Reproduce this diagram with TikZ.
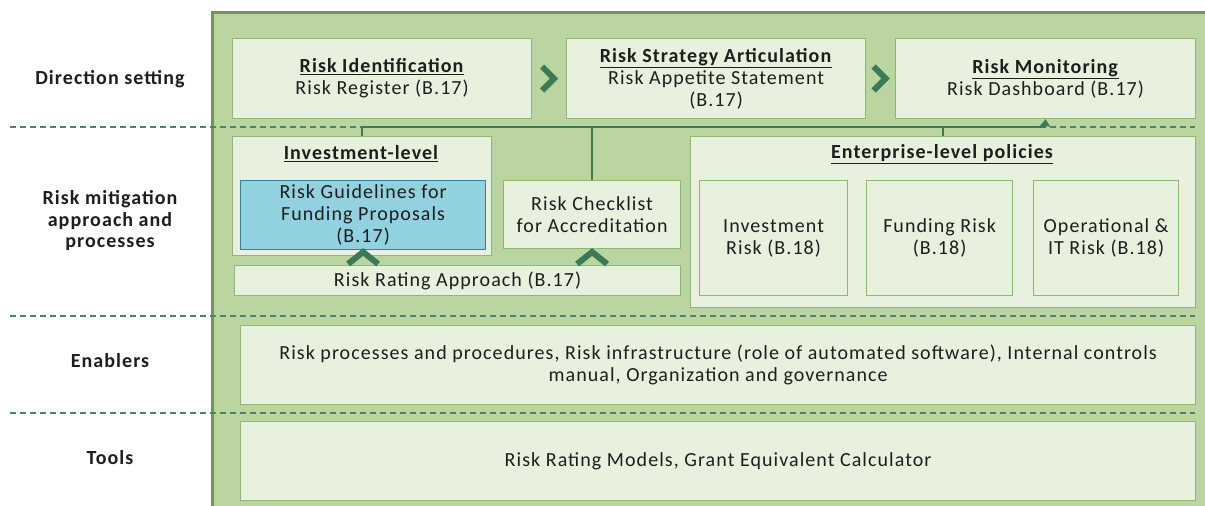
\documentclass[tikz,border=0pt]{standalone}
\usepackage{fontspec}
\setmainfont{Carlito}[LetterSpace=5.3]
\usetikzlibrary{calc,arrows.meta}
\definecolor{panel}{HTML}{BBD5A0}
\definecolor{boxfill}{HTML}{E8F0DE}
\definecolor{boxline}{HTML}{8DB874}
\definecolor{dkgreen}{HTML}{3B7A57}
\definecolor{panelline}{HTML}{6B9A55}
\definecolor{bluefill}{HTML}{92D1E0}
\definecolor{blueline}{HTML}{31849B}
\definecolor{txt}{HTML}{1E1E1E}
\definecolor{dashcol}{HTML}{4F8270}
\tikzset{
  box/.style={draw=boxline, fill=boxfill, line width=1.2pt, anchor=north west, inner sep=2pt, align=center, text=txt},
  bluebox/.style={box, draw=blueline, fill=bluefill},
  lbl/.style={font=\fontsize{20}{21.5}\selectfont\bfseries, align=center, text=txt},
  ttl/.style={font=\fontsize{20}{22}\selectfont\bfseries, text=txt},
  conn/.style={dkgreen, line width=1.5pt},
  sep/.style={dashcol, line width=1.2pt, dash pattern=on 6pt off 4pt},
  chev/.style={dkgreen, line width=6pt, line join=miter, line cap=butt},
}
\newcommand{\ul}[1]{\underline{\textbf{#1}}}
\begin{document}
\begin{tikzpicture}[x=1pt,y=-1pt, font=\fontsize{20}{22}\selectfont]
\useasboundingbox (0,0) rectangle (1205,506);
\fill[white] (0,0) rectangle (1205,506);
\fill[panel] (212,12) rectangle (1205,506);
\draw[panelline, line width=3pt] (212,506) -- (212,12) -- (1205,12);

% separators
\draw[sep] (10,127) -- (1195,127);
\draw[sep] (10,316) -- (1195,316);
\draw[sep] (10,413) -- (1195,413);

% left labels
\node[lbl] (l1) at (110,79) {Direction setting};
\node[lbl] (l2) at (110,221) {Risk mitigation\\approach and\\processes};
\node[lbl] (l3) at (110,361) {Enablers};
\node[lbl] (l4) at (110,458) {Tools};

% top row
\node[box, minimum width=299pt, minimum height=80pt] (ri) at (232,38) {\ul{Risk Identification}\\Risk Register (B.17)};
\node[box, minimum width=299pt, minimum height=80pt] (rs) at (566,38) {\ul{Risk Strategy Articulation}\\Risk Appetite Statement\\(B.17)};
\node[box, minimum width=300pt, minimum height=80pt] (rm) at (895,38) {\ul{Risk Monitoring}\\Risk Dashboard (B.17)};

% middle row
\node[box, minimum width=259pt, minimum height=119pt] (inv) at (232,136) {};
\node[ttl] (invt) at (361,154) {\underline{Investment-level}};
\node[bluebox, minimum width=245pt, minimum height=69pt] (gl) at (240,180) {Risk Guidelines for\\Funding Proposals\\(B.17)};
\node[box, minimum width=177pt, minimum height=68pt] (chk) at (503,180) {Risk Checklist\\for Accreditation};
\node[box, minimum width=446pt, minimum height=30pt] (rra) at (234,265) {Risk Rating Approach (B.17)};

\node[box, minimum width=505pt, minimum height=171pt] (ent) at (690,136) {};
\node[ttl] (entt) at (942,154) {\underline{Enterprise-level policies}};
\node[box, minimum width=148pt, minimum height=115pt] (e1) at (699,180) {Investment\\Risk (B.18)};
\node[box, minimum width=146pt, minimum height=115pt] (e2) at (866,180) {Funding Risk\\(B.18)};
\node[box, minimum width=145pt, minimum height=115pt] (e3) at (1033,180) {Operational \&\\IT Risk (B.18)};

% bottom rows
\node[box, minimum width=955pt, minimum height=79pt] (en) at (240,325) {Risk processes and procedures, Risk infrastructure (role of automated software), Internal controls\\manual, Organization and governance};
\node[box, minimum width=955pt, minimum height=79pt] (tl) at (240,421) {Risk Rating Models, Grant Equivalent Calculator};

% connectors
\coordinate (busR) at (1045,127);
\draw[conn] (inv.north) -- (inv.north |- busR) -- (busR);
\draw[conn, -{Triangle[length=7pt,width=10pt]}] (busR) -- (rm.south);
\draw[conn] (chk.north) -- (chk.north |- busR);
\draw[conn] (ent.north) -- (ent.north |- busR);

% chevrons right
\coordinate (c1) at ($(ri.east)!0.5!(rs.west)$);
\coordinate (c2) at ($(rs.east)!0.5!(rm.west)$);
\draw[chev] ($(c1)+(-7,-12)$) -- ($(c1)+(5,0)$) -- ($(c1)+(-7,12)$);
\draw[chev] ($(c2)+(-7,-12)$) -- ($(c2)+(5,0)$) -- ($(c2)+(-7,12)$);

% chevrons up
\coordinate (u1) at (gl.south |- rra.north);
\coordinate (u2) at (chk.south |- rra.north);
\draw[chev] ($(u1)+(-15,-1)$) -- ($(u1)+(0,-13)$) -- ($(u1)+(15,-1)$);
\draw[chev] ($(u2)+(-15,-1)$) -- ($(u2)+(0,-13)$) -- ($(u2)+(15,-1)$);
\end{tikzpicture}
\end{document}
